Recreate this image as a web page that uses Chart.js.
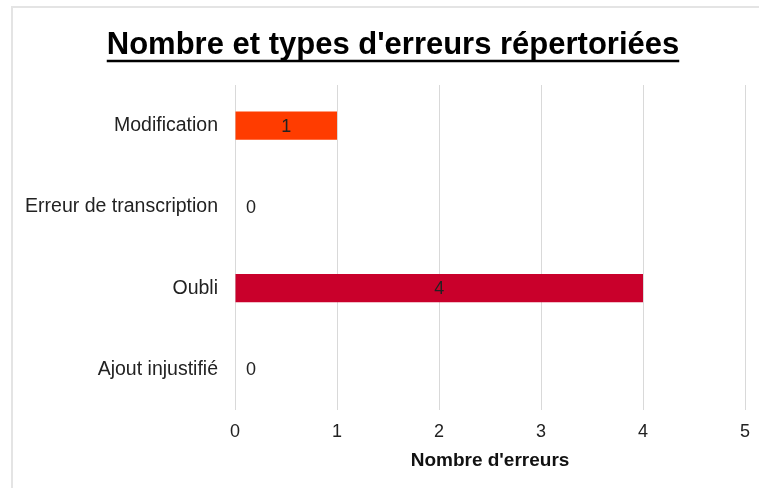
<!DOCTYPE html>
<html>
<head>
<meta charset="utf-8">
<script src="https://cdn.jsdelivr.net/npm/chart.js@4.4.1/dist/chart.umd.min.js"></script>
<style>
    html, body { margin: 0; padding: 0; background: #fff; overflow: hidden; }
    #frame {
        position: absolute; left: 11px; top: 6px;
        width: 760px; height: 490px;
        border: 2px solid #e4e4e4;
    }
    #chart { display: block; }
</style>
</head>
<body>
<div id="frame">
    <canvas id="chart" width="760" height="480"></canvas>
</div>
<script>
// data
const categories = ["Modification", "Erreur de transcription", "Oubli", "Ajout injustifié"];
const errorCounts = [1, 0, 4, 0];
const barColors = ["#ff3c00", "#ff3c00", "#c9002b", "#c9002b"];
const xTicks = [0, 1, 2, 3, 4, 5];

const FONT = "'Liberation Sans', Arial, sans-serif";

// value labels: centred in the bar, or just right of the axis when zero
const valueLabels = {
    id: 'valueLabels',
    afterDatasetsDraw(chart) {
        const ctx = chart.ctx;
        const meta = chart.getDatasetMeta(0);
        ctx.save();
        ctx.font = "18px " + FONT;
        ctx.fillStyle = "#222";
        ctx.textAlign = "center";
        ctx.textBaseline = "middle";
        meta.data.forEach(function (bar, i) {
            const v = errorCounts[i];
            const x = v > 0 ? (bar.base + bar.x) / 2 : bar.x + 16;
            ctx.fillText(String(v), x, bar.y + 1);
        });
        ctx.restore();
    }
};

// nudge the title a bit right and underline it
const titleUnderline = {
    id: 'titleUnderline',
    afterLayout(chart) {
        if (chart.titleBlock) chart.titleBlock.left += 18;
    },
    afterDraw(chart) {
        const tb = chart.titleBlock;
        if (!tb) return;
        const ctx = chart.ctx;
        const opts = chart.options.plugins.title;
        ctx.save();
        ctx.font = "bold " + opts.font.size + "px " + FONT;
        const w = ctx.measureText(opts.text).width;
        const center = (tb.left + tb.right) / 2;
        const y = tb.top + opts.padding.top + opts.font.size * 1.2 / 2 + 16;
        ctx.strokeStyle = "#000";
        ctx.lineWidth = 2.5;
        ctx.beginPath();
        ctx.moveTo(center - w / 2, y);
        ctx.lineTo(center + w / 2, y);
        ctx.stroke();
        ctx.restore();
    }
};

window.charts = window.charts || {};
window.charts["errors"] = new Chart(document.getElementById("chart"), {
    type: 'bar',
    data: {
        labels: categories,
        datasets: [{
            label: "Nombre d'erreurs",
            data: errorCounts,
            backgroundColor: barColors,
            borderWidth: 0,
            barPercentage: 0.345,
            categoryPercentage: 1
        }]
    },
    options: {
        indexAxis: 'y',
        responsive: false,
        animation: false,
        layout: {
            padding: { left: 10, right: 28, top: 0, bottom: 8 }
        },
        scales: {
            x: {
                min: 0,
                max: 5,
                afterBuildTicks: function (scale) {
                    scale.ticks = xTicks.map(function (v) { return { value: v }; });
                },
                afterFit: function (scale) { scale.height = 70; },
                grid: { color: "#d9d9d9", lineWidth: 1, drawTicks: false },
                border: { display: false },
                ticks: {
                    padding: 11,
                    color: "#222",
                    font: { family: FONT, size: 18 }
                },
                title: {
                    display: true,
                    text: "Nombre d'erreurs",
                    color: "#111",
                    font: { family: FONT, size: 19, weight: 'bold' },
                    padding: { top: 0, bottom: 8 }
                }
            },
            y: {
                grid: { display: false, drawTicks: false },
                border: { display: false },
                afterFit: function (scale) { scale.width = 212; },
                ticks: {
                    padding: 17,
                    color: "#222",
                    font: { family: FONT, size: 19.5 }
                }
            }
        },
        plugins: {
            legend: { display: false },
            tooltip: { enabled: false },
            title: {
                display: true,
                text: "Nombre et types d'erreurs répertoriées",
                color: "#000",
                font: { family: FONT, size: 31, weight: 'bold' },
                padding: { top: 18.4, bottom: 21.4 }
            }
        }
    },
    plugins: [valueLabels, titleUnderline]
});
</script>
</body>
</html>
